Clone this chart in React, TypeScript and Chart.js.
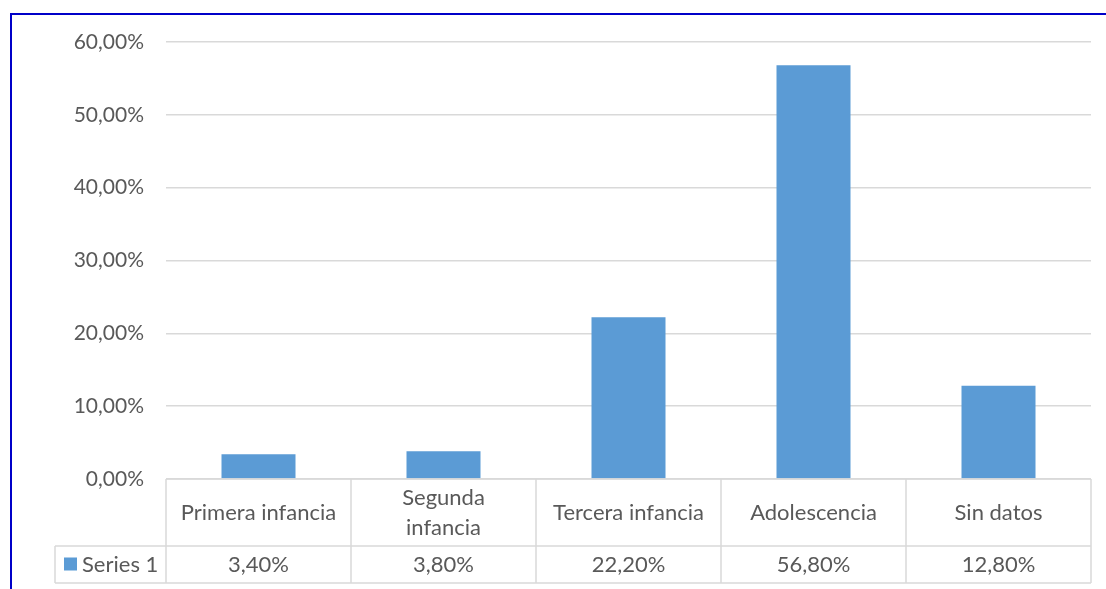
import React, { useEffect, useRef } from "react";
import { Chart, registerables } from "chart.js";

Chart.register(...registerables);

const categories: string[][] = [
  ["Primera infancia"],
  ["Segunda", "infancia"],
  ["Tercera infancia"],
  ["Adolescencia"],
  ["Sin datos"],
];
const seriesName = "Series 1";
const seriesValues = [3.4, 3.8, 22.2, 56.8, 12.8];
const valueLabels = ["3,40%", "3,80%", "22,20%", "56,80%", "12,80%"];
const yTicks = [0, 10, 20, 30, 40, 50, 60];

const FONT = "Lato";
const TEXT = "#595959";
const BAR = "#5B9BD5";
const LINE = "#D9D9D9";

const fmt = (v: number) => v.toFixed(2).replace(".", ",") + "%";

export default function App() {
  const ref = useRef<HTMLCanvasElement | null>(null);
  useEffect(() => {
    if (!ref.current) return;
    const tablePlugin = {
      id: "dataTable",
      afterDraw(chart: any) {
        const ctx = chart.ctx as CanvasRenderingContext2D;
        const xs = chart.scales.x;
        const area = chart.chartArea;
        const n = categories.length;
        const cw = (area.right - area.left) / n;
        const top = area.bottom;
        const mid = top + 67;
        const bot = mid + 37;
        const legLeft = 55;
        ctx.save();
        ctx.strokeStyle = LINE;
        ctx.lineWidth = 1.5;
        ctx.beginPath();
        ctx.moveTo(legLeft, mid);
        ctx.lineTo(area.right, mid);
        ctx.moveTo(legLeft, bot);
        ctx.lineTo(area.right, bot);
        ctx.moveTo(area.left, top);
        ctx.lineTo(area.right, top);
        ctx.moveTo(legLeft, mid);
        ctx.lineTo(legLeft, bot);
        for (let i = 0; i <= n; i++) {
          const x = area.left + i * cw;
          ctx.moveTo(x, top);
          ctx.lineTo(x, bot);
        }
        ctx.stroke();

        ctx.fillStyle = TEXT;
        ctx.font = `22px ${FONT}`;
        ctx.textAlign = "center";
        ctx.textBaseline = "middle";
        for (let i = 0; i < n; i++) {
          const cx = xs.getPixelForValue(i);
          const lines = categories[i];
          const lh = 30;
          const cy = (top + mid) / 2;
          lines.forEach((l, j) => {
            ctx.fillText(l, cx, cy + (j - (lines.length - 1) / 2) * lh);
          });
          ctx.fillText(valueLabels[i], cx, (mid + bot) / 2);
        }
        ctx.fillStyle = BAR;
        ctx.fillRect(64, (mid + bot) / 2 - 7, 13, 13);
        ctx.fillStyle = TEXT;
        ctx.textAlign = "left";
        ctx.fillText(seriesName, 82, (mid + bot) / 2);
        ctx.restore();
      },
    };
    const chart = new Chart(ref.current, {
      type: "bar",
      data: {
        labels: categories.map((c) => c.join(" ")),
        datasets: [
          {
            label: seriesName,
            data: seriesValues,
            backgroundColor: BAR,
            categoryPercentage: 1,
            barPercentage: 0.4,
          },
        ],
      },
      plugins: [tablePlugin],
      options: {
        animation: false,
        responsive: false,
        layout: { padding: { top: 42, right: 15, left: 0, bottom: 0 } },
        plugins: { legend: { display: false }, tooltip: { enabled: false } },
        scales: {
          x: {
            grid: { display: false },
            border: { display: false },
            ticks: { display: false },
            afterFit: (s: any) => {
              s.height = 110;
            },
          },
          y: {
            min: 0,
            max: 60,
            afterBuildTicks: (s: any) => {
              s.ticks = yTicks.map((v) => ({ value: v }));
            },
            afterFit: (s: any) => {
              s.width = 166;
            },
            grid: { color: LINE, lineWidth: 1.5, drawTicks: false },
            border: { display: false },
            ticks: {
              padding: 22,
              color: TEXT,
              font: { family: FONT, size: 21 },
              callback: (v: any) => fmt(Number(v)),
            },
          },
        },
      },
    });
    return () => chart.destroy();
  }, []);
  return (
    <div style={{ position: "fixed", left: 0, top: 0, width: 1106, height: 589, background: "#fff" }}>
      <canvas ref={ref} width={1106} height={589} style={{ position: "absolute", left: 0, top: 0 }} />
      <div
        style={{
          position: "absolute",
          left: 10,
          top: 13,
          right: 0,
          bottom: 0,
          borderTop: "2px solid #0000C8",
          borderLeft: "2px solid #0000C8",
          pointerEvents: "none",
        }}
      />
    </div>
  );
}
